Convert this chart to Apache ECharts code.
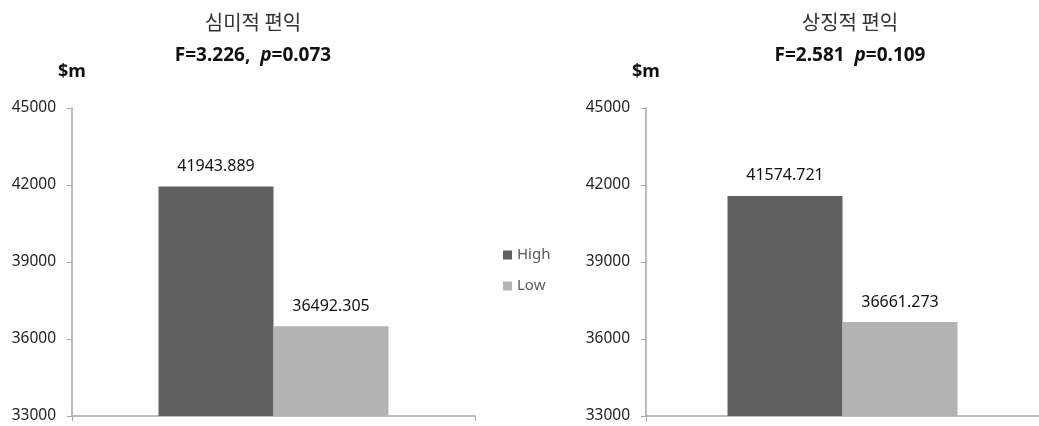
<!DOCTYPE html>
<html><head><meta charset="utf-8">
<script src="https://cdn.jsdelivr.net/npm/echarts@6/dist/echarts.min.js"></script>
<style>html,body{margin:0;padding:0;background:#fff}#c{width:1039px;height:426px}</style>
</head><body><div id="c"></div>
<script>
var panelTitles = ['심미적 편익', '상징적 편익'];
var fValues = ['3.226,', '2.581'];
var pValues = ['0.073', '0.109'];
var seriesNames = ['High', 'Low'];
var highValues = [41943.889, 41574.721];
var lowValues = [36492.305, 36661.273];
var yTicks = {min: 33000, max: 45000, interval: 3000};
var unitLabel = '$m';

var FONT = '"Noto Sans", "Noto Sans CJK KR", sans-serif';
var colors = ['#606060', '#b3b3b3'];
var axisColor = '#a6a6a6';
var grids = [{left: 72, width: 403, top: 108, bottom: 10}, {left: 646, width: 398, top: 108, bottom: 10}];
var centers = [253, 850];

var chart = echarts.init(document.getElementById('c'));
var titles = [], xAxes = [], yAxes = [], series = [];
for (var i = 0; i < 2; i++) {
  titles.push({
    text: panelTitles[i], left: centers[i], top: 12, padding: 0, textAlign: 'center',
    textStyle: {fontFamily: '"Noto Sans CJK KR", sans-serif', fontSize: 20, fontWeight: 'normal', color: '#333'}
  });
  titles.push({
    text: '{b|F=' + fValues[i] + '  }{i|p}{b|=' + pValues[i] + '}',
    left: centers[i], top: 46, padding: 0, textAlign: 'center',
    textStyle: {rich: {
      b: {fontFamily: FONT, fontSize: 19, fontWeight: 'bold', color: '#111'},
      i: {fontFamily: FONT, fontSize: 19, fontWeight: 'bold', fontStyle: 'italic', color: '#111'}
    }}
  });
  xAxes.push({
    type: 'category', gridIndex: i, data: [''],
    axisLine: {lineStyle: {color: axisColor, width: 1.5}},
    axisTick: {show: true, length: 5, lineStyle: {color: axisColor}},
    axisLabel: {show: false}
  });
  yAxes.push({
    type: 'value', gridIndex: i, min: yTicks.min, max: yTicks.max, interval: yTicks.interval,
    name: unitLabel, nameLocation: 'end', nameGap: 36,
    nameTextStyle: {fontFamily: FONT, fontSize: 18, fontWeight: 'bold', color: '#111', align: 'center', verticalAlign: 'middle'},
    axisLine: {show: true, lineStyle: {color: axisColor, width: 1.5}},
    axisTick: {show: true, length: 5, lineStyle: {color: axisColor}},
    splitLine: {show: false},
    axisLabel: {fontFamily: FONT, fontSize: 15.5, color: '#222', margin: 16,
      formatter: function (v) { return String(v); }}
  });
  var vals = [highValues[i], lowValues[i]];
  for (var s = 0; s < 2; s++) {
    series.push({
      type: 'bar', name: seriesNames[s], xAxisIndex: i, yAxisIndex: i,
      data: [vals[s]], barWidth: 115, barGap: '0%',
      itemStyle: {color: colors[s]},
      label: {show: true, position: 'top', distance: 12, fontFamily: FONT, fontSize: 16, color: '#111',
        formatter: function (p) { return p.value.toFixed(3); }}
    });
  }
}
chart.setOption({
  animation: false,
  title: titles,
  grid: grids,
  xAxis: xAxes,
  yAxis: yAxes,
  legend: {
    orient: 'vertical', left: 498, top: 240, icon: 'rect', itemWidth: 9, itemHeight: 9, itemGap: 11,
    data: seriesNames,
    textStyle: {fontFamily: FONT, fontSize: 15, color: '#595959', lineHeight: 20}
  },
  series: series
});
</script></body></html>
